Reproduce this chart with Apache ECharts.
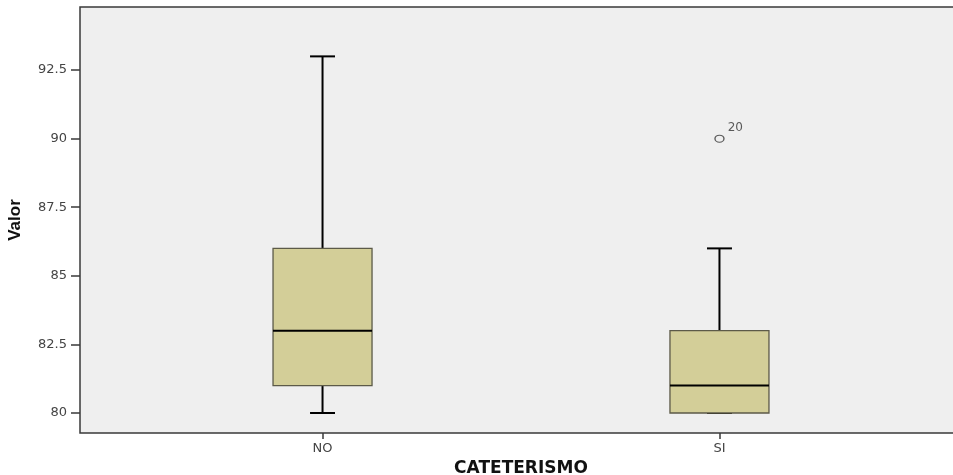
<!DOCTYPE html>
<html>
<head>
<meta charset="utf-8">
<script src="https://cdn.jsdelivr.net/npm/echarts@6/dist/echarts.min.js"></script>
<style>
  html, body { margin: 0; background: #fff; overflow: hidden; }
  #chart { width: 962px; height: 475px; }
</style>
</head>
<body>
<div id="chart"></div>
<script>
const categories = ['NO', 'SI']
// min, Q1, mediana, Q3, max
const boxNO = [80, 81, 83, 86, 93]
const boxSI = [80, 80, 81, 83, 86]
const outlierPos = [1]
const outlierVal = [90]
const outlierCase = ['20']
const yTicks = [80, 82.5, 85, 87.5, 90, 92.5]

const boxData = [[0, ...boxNO], [1, ...boxSI]]
const outlierData = outlierPos.map((p, i) => [p, outlierVal[i], outlierCase[i]])

const font = 'DejaVu Sans'

function renderBox(params, api) {
  const x = api.value(0)
  const lo = api.coord([x, api.value(1)])
  const q1 = api.coord([x, api.value(2)])
  const med = api.coord([x, api.value(3)])
  const q3 = api.coord([x, api.value(4)])
  const hi = api.coord([x, api.value(5)])
  const cx = lo[0]
  const bw = 99
  const cw = 25
  const line = (x1, y1, x2, y2) => ({
    type: 'line',
    shape: { x1, y1, x2, y2 },
    style: { stroke: '#000', lineWidth: 2 }
  })
  return {
    type: 'group',
    children: [
      line(cx, q3[1], cx, hi[1]),
      line(cx, lo[1], cx, q1[1]),
      line(cx - cw / 2, hi[1], cx + cw / 2, hi[1]),
      line(cx - cw / 2, lo[1], cx + cw / 2, lo[1]),
      {
        type: 'rect',
        shape: { x: cx - bw / 2, y: q3[1], width: bw, height: q1[1] - q3[1] },
        style: { fill: '#d3ce98', stroke: '#5c5a48', lineWidth: 1.3 }
      },
      line(cx - bw / 2, med[1], cx + bw / 2, med[1])
    ]
  }
}

const myChart = echarts.init(document.getElementById('chart'))
const option = {
  animation: false,
  backgroundColor: '#fff',
  grid: {
    left: 80,
    right: 0,
    top: 7,
    bottom: 42,
    outerBoundsMode: 'none',
    show: true,
    backgroundColor: '#efefef',
    borderColor: '#3a3a3a',
    borderWidth: 1.5
  },
  xAxis: {
    type: 'value',
    min: -0.611,
    max: 1.611,
    splitLine: { show: false },
    axisLine: { show: false, onZero: false },
    axisTick: {
      show: true,
      length: 6,
      customValues: [0, 1],
      lineStyle: { color: '#3a3a3a', width: 1.5 }
    },
    axisLabel: {
      customValues: [0, 1],
      margin: 9,
      color: '#444',
      fontFamily: font,
      fontSize: 13,
      formatter: v => categories[Math.round(v)]
    },
    name: 'CATETERISMO',
    nameLocation: 'middle',
    nameGap: 24,
    nameTextStyle: {
      color: '#111',
      fontFamily: font,
      fontWeight: 'bold',
      fontSize: 17
    }
  },
  yAxis: {
    type: 'value',
    min: 79.27,
    max: 94.8,
    splitLine: { show: false },
    axisLine: { show: false, onZero: false },
    axisTick: {
      show: true,
      length: 9,
      customValues: yTicks,
      lineStyle: { color: '#3a3a3a', width: 1.5 }
    },
    axisLabel: {
      customValues: yTicks,
      margin: 13,
      color: '#444',
      fontFamily: font,
      fontSize: 13
    },
    name: 'Valor',
    nameLocation: 'middle',
    nameGap: 56,
    nameTextStyle: {
      color: '#111',
      fontFamily: 'Liberation Sans Narrow, Liberation Sans',
      fontWeight: 'bold',
      fontSize: 17
    }
  },
  series: [
    {
      type: 'custom',
      renderItem: renderBox,
      encode: { x: 0, y: [1, 2, 3, 4, 5] },
      data: boxData
    },
    {
      type: 'scatter',
      symbol: 'circle',
      symbolSize: [9, 7],
      itemStyle: { color: '#efefef', borderColor: '#333', borderWidth: 1.2 },
      label: {
        show: true,
        position: 'right',
        distance: 3,
        offset: [0, -11],
        color: '#333',
        fontFamily: font,
        fontSize: 12,
        formatter: p => p.value[2]
      },
      data: outlierData
    }
  ]
}
option && myChart.setOption(option)
</script>
</body>
</html>
